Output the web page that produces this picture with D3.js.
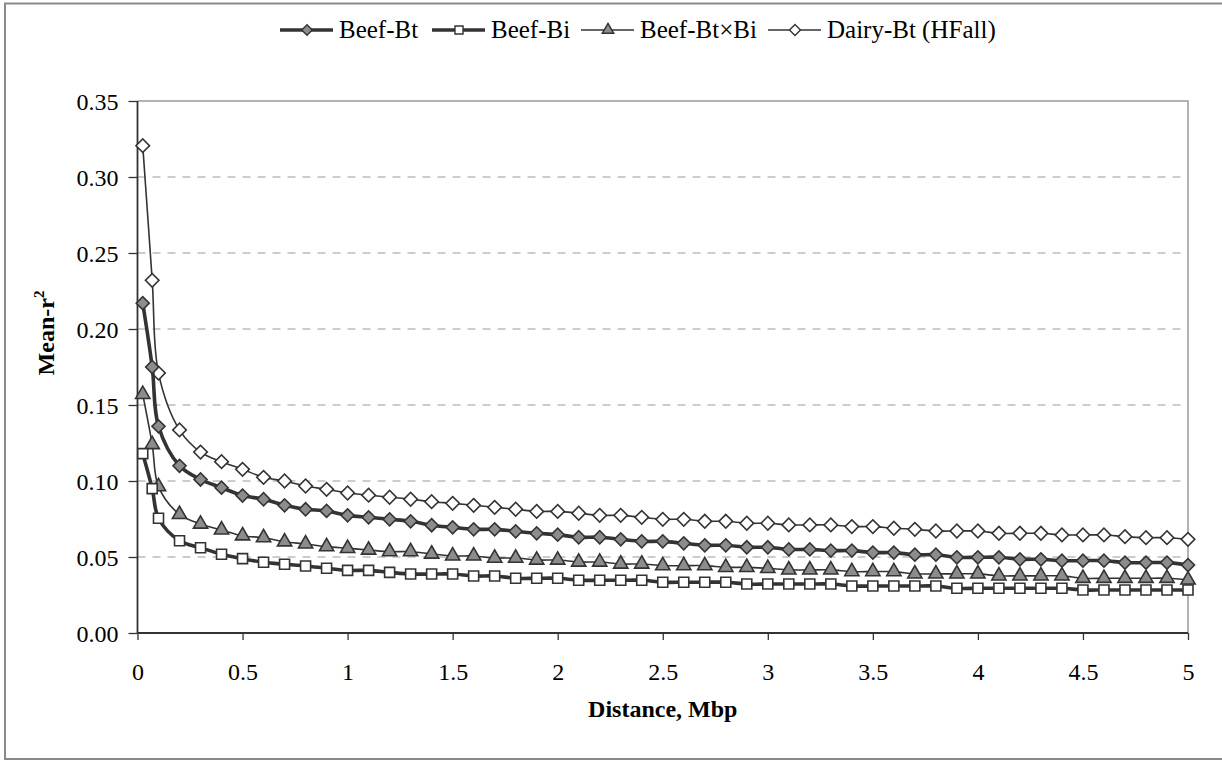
<!DOCTYPE html>
<html><head><meta charset="utf-8">
<script src="https://cdn.jsdelivr.net/npm/d3@7"></script>
<style>
html,body{margin:0;padding:0;background:#fff;}
svg{display:block;font-family:"Liberation Serif","Times New Roman",serif;}
</style></head>
<body>
<svg id="chart" width="1222" height="761"></svg>
<script>
const distance = [0.025,0.07,0.1,0.2,0.3,0.4,0.5,0.6,0.7,0.8,0.9,1.0,1.1,1.2,1.3,1.4,1.5,1.6,1.7,1.8,1.9,2.0,2.1,2.2,2.3,2.4,2.5,2.6,2.7,2.8,2.9,3.0,3.1,3.2,3.3,3.4,3.5,3.6,3.7,3.8,3.9,4.0,4.1,4.2,4.3,4.4,4.5,4.6,4.7,4.8,4.9,5.0];
const beefBt = [0.217,0.175,0.136,0.110,0.101,0.0956,0.0904,0.088,0.084,0.0814,0.0803,0.0774,0.0761,0.0748,0.0735,0.0709,0.0695,0.0682,0.0682,0.0669,0.0656,0.0647,0.063,0.063,0.0616,0.0603,0.0603,0.059,0.0577,0.0577,0.0564,0.0564,0.055,0.055,0.0542,0.0542,0.0529,0.0529,0.0515,0.0515,0.0498,0.0498,0.0498,0.0485,0.0485,0.0476,0.0476,0.0476,0.0463,0.0463,0.0463,0.0447];
const beefBi = [0.118,0.095,0.0755,0.0607,0.0561,0.0518,0.0489,0.0465,0.0452,0.0441,0.0426,0.0412,0.0412,0.0399,0.0388,0.0388,0.0388,0.0375,0.0375,0.036,0.036,0.036,0.0347,0.0347,0.0347,0.0347,0.0334,0.0334,0.0334,0.0334,0.0322,0.0322,0.0322,0.0322,0.0322,0.0309,0.0309,0.0309,0.0309,0.0309,0.0294,0.0294,0.0294,0.0294,0.0294,0.0294,0.0283,0.0283,0.0283,0.0283,0.0283,0.0283];
const beefBtxBi = [0.157,0.124,0.0963,0.078,0.0717,0.0678,0.064,0.0627,0.060,0.0586,0.0568,0.0557,0.0546,0.0535,0.0535,0.052,0.0507,0.0507,0.0493,0.0493,0.048,0.048,0.0467,0.0467,0.0454,0.0454,0.0443,0.0443,0.0443,0.0432,0.0432,0.0425,0.0415,0.0415,0.0415,0.0404,0.0404,0.0404,0.0389,0.0389,0.0389,0.0389,0.0376,0.0376,0.0376,0.0376,0.036,0.036,0.036,0.036,0.036,0.0349];
const dairyBt = [0.3206,0.232,0.171,0.1336,0.119,0.1127,0.1077,0.1024,0.100,0.0967,0.0945,0.0921,0.0907,0.0893,0.088,0.0864,0.0853,0.084,0.0827,0.0814,0.080,0.080,0.0788,0.0774,0.0774,0.0761,0.0748,0.0748,0.0735,0.0735,0.0722,0.0722,0.0711,0.0711,0.0711,0.070,0.070,0.0689,0.0682,0.0671,0.0671,0.0671,0.0656,0.0656,0.0656,0.0645,0.0645,0.0645,0.0634,0.0627,0.0627,0.0616];
const seriesNames = ["Beef-Bt","Beef-Bi","Beef-Bt\u00d7Bi","Dairy-Bt (HFall)"];
const xTicks = [0,0.5,1,1.5,2,2.5,3,3.5,4,4.5,5];
const yTicks = [0,0.05,0.10,0.15,0.20,0.25,0.30,0.35];
const xTitle = "Distance, Mbp";
const yTitle = "Mean-r";

// ---- layout / styles ----
const svg = d3.select("#chart");
const L = 137.5, R = 1188, T = 101, B = 633;
const x = d3.scaleLinear().domain([0,5]).range([L,R]);
const y = d3.scaleLinear().domain([0,0.35]).range([B,T]);
const dark = "#333", gray = "#8c8c8c";
const fs = 24;
const serif = "Liberation Serif";

svg.append("rect").attr("x",5).attr("y",3.5).attr("width",1222).attr("height",755.5)
  .attr("fill","none").attr("stroke","#8a8a8a").attr("stroke-width",2);

// gridlines
svg.append("g").selectAll("line").data(yTicks.filter(v=>v>0 && v<0.35)).join("line")
  .attr("x1",L).attr("x2",R).attr("y1",d=>y(d)).attr("y2",d=>y(d))
  .attr("stroke","#9a9a9a").attr("stroke-width",1.2).attr("stroke-dasharray","8,7");
// top and right border
svg.append("path").attr("d",`M${L},${T}H${R}V${B}`).attr("fill","none")
  .attr("stroke","#9a9a9a").attr("stroke-width",1.5);

// axes
const yAxis = d3.axisLeft(y).tickValues(yTicks).tickFormat(d3.format(".2f")).tickSize(9).tickPadding(10);
const gy = svg.append("g").attr("transform",`translate(${L},0)`).call(yAxis);
const xAxis = d3.axisBottom(x).tickValues(xTicks).tickFormat(d=>String(d)).tickSize(7).tickPadding(23);
const gx = svg.append("g").attr("transform",`translate(0,${B})`).call(xAxis);
[gx,gy].forEach(g=>{
  g.attr("font-family",serif);
  g.select(".domain").attr("stroke",dark).attr("stroke-width",1.8);
  g.selectAll(".tick line").attr("stroke",dark).attr("stroke-width",1.3);
  g.selectAll(".tick text").attr("font-family",serif).attr("font-size",fs).attr("fill","#000");
});
gx.select(".domain").attr("d",`M${L},0H${R}`);
gy.select(".domain").attr("d",`M0,${B}V${T}`);
gy.selectAll(".tick text").attr("dy","0.34em");

// titles
svg.append("text").attr("x",(L+R)/2).attr("y",717).attr("text-anchor","middle")
  .attr("font-family",serif).attr("font-weight","bold").attr("font-size",fs).text(xTitle);
const yt = svg.append("text").attr("transform","translate(54,333) rotate(-90)")
  .attr("font-family",serif).attr("text-anchor","middle").attr("font-weight","bold").attr("font-size",fs);
yt.append("tspan").text(yTitle);
yt.append("tspan").attr("dy",-10).attr("font-size",15).text("2");

// series
const values = [beefBt,beefBi,beefBtxBi,dairyBt];
const styles = [
  {w:3.6, sym:d3.symbolSquare, size:85, rot:45, fill:gray},
  {w:3.6, sym:d3.symbolSquare, size:100, rot:0, fill:"#fff"},
  {w:1.6, sym:d3.symbolTriangle, size:88, rot:0, fill:gray},
  {w:1.6, sym:d3.symbolSquare, size:92, rot:45, fill:"#fff"}
];
const line = d3.line().x(d=>x(d[0])).y(d=>y(d[1])).curve(d3.curveCatmullRom.alpha(0.5));
const order = [3,2,1,0];
order.forEach(i=>{
  const pts = distance.map((d,k)=>[d,values[i][k]]);
  const g = svg.append("g");
  g.append("path").attr("d",line(pts)).attr("fill","none").attr("stroke",dark).attr("stroke-width",styles[i].w);
  g.selectAll("path.m").data(pts).join("path").attr("class","m")
    .attr("transform",d=>`translate(${x(d[0])},${y(d[1])}) rotate(${styles[i].rot})`)
    .attr("d",d3.symbol().type(styles[i].sym).size(styles[i].size))
    .attr("fill",styles[i].fill).attr("stroke",dark).attr("stroke-width",1.6);
});

// legend
const legY = 30;
const legTextX = [339,491,640,827];
const leg = svg.append("g");
seriesNames.forEach((n,i)=>{
  const tx = legTextX[i];
  leg.append("line").attr("x1",tx-59).attr("x2",tx-6).attr("y1",legY).attr("y2",legY)
    .attr("stroke",dark).attr("stroke-width",styles[i].w);
  leg.append("path").attr("transform",`translate(${tx-32},${legY}) rotate(${styles[i].rot})`)
    .attr("d",d3.symbol().type(styles[i].sym).size(styles[i].size*0.65))
    .attr("fill",styles[i].fill).attr("stroke",dark).attr("stroke-width",1.4);
  leg.append("text").attr("x",tx).attr("y",legY+8).attr("font-family",serif).attr("font-size",25).text(n);
});
</script>
</body></html>
